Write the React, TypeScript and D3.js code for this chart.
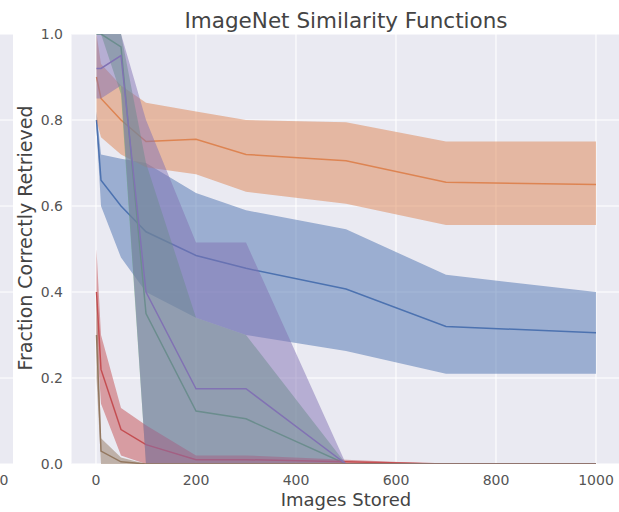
import * as d3 from "d3";

// x positions (number of images stored)
const imagesStored = [1, 10, 50, 100, 200, 300, 500, 700, 1000];

// six similarity functions: mean and confidence band per x
const blueMean = [0.8, 0.66, 0.6, 0.54, 0.485, 0.455, 0.407, 0.32, 0.305];
const blueLow = [0.78, 0.6, 0.48, 0.4, 0.34, 0.3, 0.263, 0.21, 0.21];
const blueHigh = [0.82, 0.72, 0.71, 0.7, 0.63, 0.59, 0.546, 0.44, 0.4];

const orangeMean = [0.9, 0.85, 0.8, 0.75, 0.755, 0.72, 0.705, 0.655, 0.65];
const orangeLow = [0.8, 0.76, 0.72, 0.69, 0.674, 0.633, 0.605, 0.556, 0.556];
const orangeHigh = [1.0, 0.93, 0.88, 0.84, 0.82, 0.8, 0.795, 0.75, 0.75];

const greenMean = [1.0, 1.0, 0.97, 0.35, 0.123, 0.105, 0, 0, 0];
const greenLow = [1.0, 1.0, 0.86, 0, 0, 0, 0, 0, 0];
const greenHigh = [1.0, 1.0, 1.0, 0.7, 0.34, 0.3, 0, 0, 0];

const redMean = [0.4, 0.22, 0.08, 0.045, 0.01, 0.01, 0.005, 0, 0];
const redLow = [0.3, 0.14, 0.02, 0, 0, 0, 0, 0, 0];
const redHigh = [0.5, 0.3, 0.13, 0.09, 0.02, 0.02, 0.01, 0, 0];

const purpleMean = [0.92, 0.92, 0.95, 0.4, 0.175, 0.175, 0, 0, 0];
const purpleLow = [0.85, 0.85, 0.88, 0, 0, 0, 0, 0, 0];
const purpleHigh = [1.0, 1.0, 1.0, 0.8, 0.515, 0.515, 0, 0, 0];

const brownMean = [0.3, 0.03, 0.005, 0, 0, 0, 0, 0, 0];
const brownLow = [0.2, 0, 0, 0, 0, 0, 0, 0, 0];
const brownHigh = [0.4, 0.06, 0.015, 0, 0, 0, 0, 0, 0];

const xTicks = [0, 200, 400, 600, 800, 1000];
const yTicks = [0, 0.2, 0.4, 0.6, 0.8, 1.0];

const series = [
  { color: "#4c72b0", mean: blueMean, low: blueLow, high: blueHigh },
  { color: "#dd8452", mean: orangeMean, low: orangeLow, high: orangeHigh },
  { color: "#55a868", mean: greenMean, low: greenLow, high: greenHigh },
  { color: "#c44e52", mean: redMean, low: redLow, high: redHigh },
  { color: "#8172b3", mean: purpleMean, low: purpleLow, high: purpleHigh },
  { color: "#937860", mean: brownMean, low: brownLow, high: brownHigh },
];

const W = 619;
const H = 512;

export default function App() {
  const x = d3.scaleLinear().domain([0, 1000]).range([96, 596]);
  const y = d3.scaleLinear().domain([0, 1]).range([464, 34]);
  const left = x(-48.95);
  const right = x(1049.95);
  const top = y(1);
  const bottom = y(0);

  const line = d3
    .line<number>()
    .x((_, i) => x(imagesStored[i]))
    .y((d) => y(d));

  const band = (low: number[], high: number[]) =>
    d3
      .area<number>()
      .x((_, i) => x(imagesStored[i]))
      .y0((_, i) => y(low[i]))
      .y1((_, i) => y(high[i]))(imagesStored);

  const font = "'DejaVu Sans', sans-serif";

  return (
    <svg
      width={W}
      height={H}
      style={{ position: "absolute", left: 0, top: 0, background: "#fff" }}
      fontFamily={font}
    >
      <defs>
        <clipPath id="plotClip">
          <rect x={left} y={top} width={right - left} height={bottom - top} />
        </clipPath>
      </defs>

      {/* edge of neighbouring subplot */}
      <rect x={0} y={top} width={13} height={bottom - top} fill="#eaeaf2" />
      {yTicks.map((t) => (
        <line key={"lg" + t} x1={0} x2={13} y1={y(t)} y2={y(t)} stroke="#fff" strokeWidth={1} />
      ))}
      <text x={4} y={485} fontSize={14} fill="#555" textAnchor="middle">0</text>

      {/* plot background and grid */}
      <rect x={left} y={top} width={right - left} height={bottom - top} fill="#eaeaf2" />
      {yTicks.map((t) => (
        <line key={"gy" + t} x1={left} x2={right} y1={y(t)} y2={y(t)} stroke="#fff" strokeWidth={1.1} />
      ))}
      {xTicks.map((t) => (
        <line key={"gx" + t} x1={x(t)} x2={x(t)} y1={top} y2={bottom} stroke="#fff" strokeWidth={1.1} />
      ))}

      <g clipPath="url(#plotClip)">
        {series.map((s, k) => (
          <g key={k}>
            <path d={line(s.mean) ?? ""} fill="none" stroke={s.color} strokeWidth={1.5} />
            <path d={band(s.low, s.high) ?? ""} fill={s.color} fillOpacity={0.5} stroke="none" />
          </g>
        ))}
      </g>

      {/* tick labels */}
      {xTicks.map((t) => (
        <text key={"xt" + t} x={x(t)} y={485} fontSize={14} fill="#555" textAnchor="middle">
          {t}
        </text>
      ))}
      {yTicks.map((t) => (
        <text key={"yt" + t} x={63} y={y(t) + 5} fontSize={14} fill="#555" textAnchor="end">
          {t.toFixed(1)}
        </text>
      ))}

      <text x={346} y={28} fontSize={21.5} fill="#444" textAnchor="middle">
        ImageNet Similarity Functions
      </text>
      <text x={346} y={506} fontSize={18} fill="#444" textAnchor="middle">
        Images Stored
      </text>
      <text
        transform={`translate(32,238) rotate(-90)`}
        fontSize={19}
        fill="#444"
        textAnchor="middle"
      >
        Fraction Correctly Retrieved
      </text>
    </svg>
  );
}
